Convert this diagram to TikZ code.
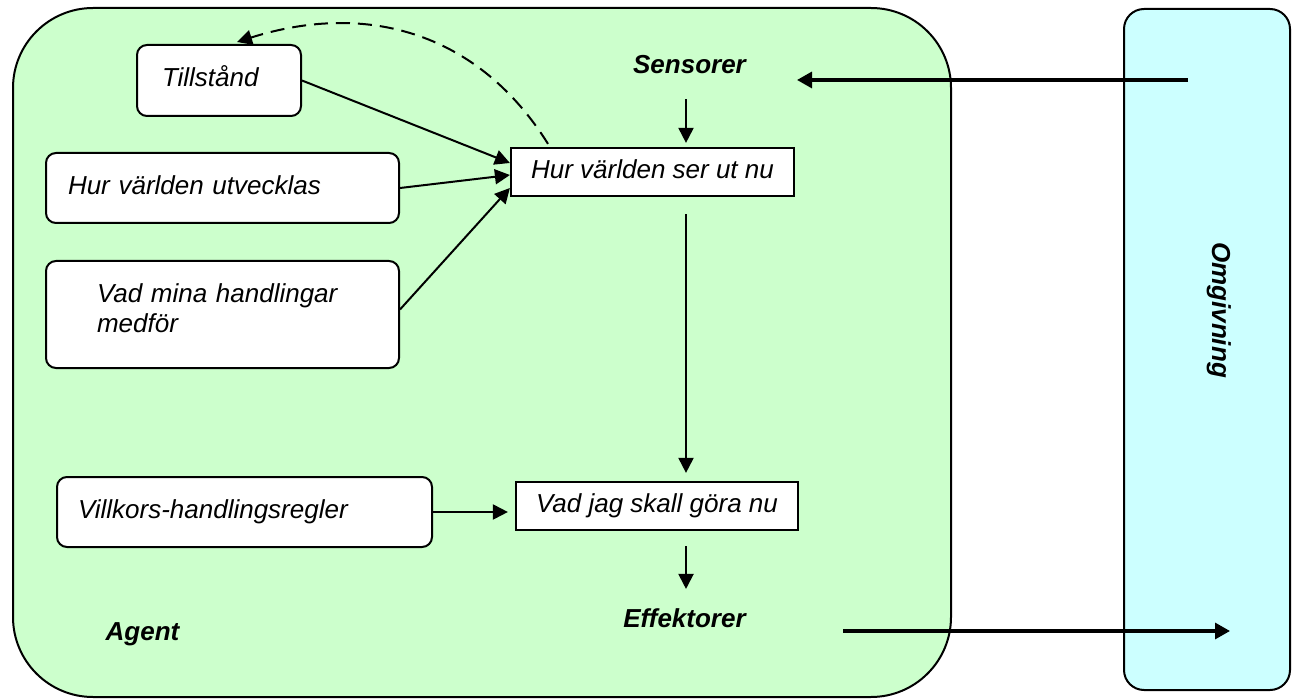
\documentclass[tikz,border=0pt]{standalone}
\usepackage{fontspec}
\setmainfont{Liberation Sans}
\usetikzlibrary{arrows.meta}
\definecolor{agentgreen}{HTML}{CCFFCC}
\definecolor{envcyan}{HTML}{CCFFFF}

\begin{document}
\begin{tikzpicture}[x=1pt,y=-1pt,
  txt/.style={font=\fontsize{26}{30}\selectfont\itshape},
  btxt/.style={font=\fontsize{26}{30}\selectfont\bfseries\itshape, inner sep=0pt},
  agentbox/.style={draw, line width=2pt, rounded corners=80pt, fill=agentgreen},
  envbox/.style={draw, line width=2pt, rounded corners=20pt, fill=envcyan},
  rbox0/.style={draw, line width=2pt, rounded corners=10pt, fill=white, txt, align=left, inner ysep=0pt},
  rbox/.style={rbox0, text height=19pt, text depth=6pt},
  sbox/.style={draw, line width=2.2pt, fill=white, txt, inner sep=0pt, text height=19pt, text depth=6pt},
  link/.style={line width=2pt, -{Triangle[length=15pt,width=15pt]}},
  thicklink/.style={line width=3.2pt, -{Triangle[length=15pt,width=16pt]}},
  dashlink/.style={link, dash pattern=on 14pt off 8pt},
]
\useasboundingbox (0,0) rectangle (1292,700);

% the two containers
\node[agentbox, minimum width=938pt, minimum height=689pt] (agent) at (482,352.5) {};
\node[envbox, minimum width=166pt, minimum height=681pt] (env) at (1207,349.5) {};

% knowledge boxes
\node[rbox, text width=114pt, inner xsep=25pt, minimum height=71pt] (till) at (219,80.5) {Tillstånd};
\node[rbox, text width=309pt, inner xsep=22pt, minimum height=70pt] (utv) at (222.5,188) {Hur världen utvecklas};
\node[rbox0, text width=251pt, inner xsep=51pt, minimum height=107pt] (mina) at (222.5,314.5) {Vad mina handlingar\\medför\rule[-12pt]{0pt}{0pt}};
\node[rbox, text width=333pt, inner xsep=21pt, minimum height=70pt] (villk) at (244.5,512) {Villkors-handlingsregler};

% state and decision boxes
\node[sbox, minimum width=283pt, minimum height=48pt] (hur) at (652.5,172) {Hur världen ser ut nu};
\node[sbox, minimum width=282pt, minimum height=48pt] (vad) at (657,506) {Vad jag skall göra nu};

% labels
\node[btxt, anchor=base] (sens) at (689.5,74) {Sensorer};
\node[btxt, anchor=base] (eff) at (684.5,627) {Effektorer};
\node[btxt, anchor=base] (agentlbl) at (142.5,640) {Agent};
\node[btxt, anchor=base, rotate=-90] (omg) at (1212,310) {Omgivning};

% percept and action ends
\coordinate (envin) at (1188,80);
\coordinate (sensin) at (797,80);
\coordinate (effout) at (843,631);
\coordinate (envout) at (1230,631);

% connectors
\draw[thicklink] (envin) -- (sensin);
\draw[thicklink] (effout) -- (envout);

\draw[link] (till.east) -- ([yshift=9pt]hur.west);
\draw[link] (utv.east) -- ([yshift=-3pt]hur.west);
\draw[link] ([yshift=5pt]mina.east) -- ([yshift=-16pt]hur.west);
\draw[link] ([xshift=-3.5pt,yshift=-25pt]sens.south) -- ([xshift=33.5pt,yshift=4pt]hur.north);
\draw[link] ([xshift=33.5pt,yshift=-17pt]hur.south) -- ([xshift=29pt,yshift=8pt]vad.north);
\draw[link] ([xshift=29pt,yshift=-15pt]vad.south) -- ([xshift=1.5pt,yshift=19pt]eff.north);
\draw[link] (villk.east) -- ([xshift=-7pt,yshift=-6pt]vad.west);

\draw[dashlink] ([xshift=-104.5pt,yshift=3pt]hur.north)
  .. controls (480,35) and (370,0) .. ([xshift=18pt,yshift=2pt]till.north);
\end{tikzpicture}
\end{document}
